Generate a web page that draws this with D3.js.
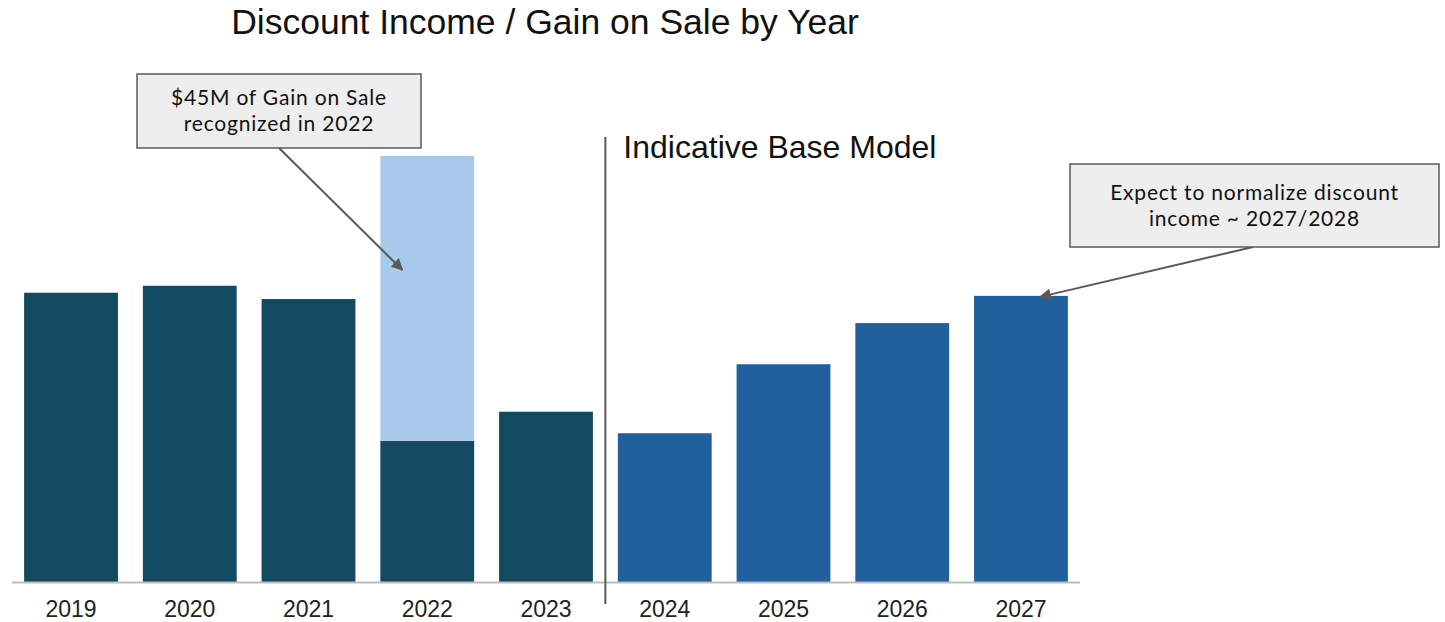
<!DOCTYPE html>
<html>
<head>
<meta charset="utf-8">
<script src="https://cdn.jsdelivr.net/npm/d3@7"></script>
<style>
  html, body { margin: 0; padding: 0; background: #fff; }
  svg { display: block; }
</style>
</head>
<body>
<svg id="chart" width="1445" height="622"></svg>
<script>
// Discount income by year ($M); 2022 also carries a one-off gain on sale
const years = ["2019", "2020", "2021", "2022", "2023", "2024", "2025", "2026", "2027"];
const discountIncome = [45.7, 46.8, 44.7, 22.3, 26.9, 23.5, 34.4, 40.9, 45.2];
const gainOnSale = [0, 0, 0, 45, 0, 0, 0, 0, 0];
const modelStart = "2024"; // first year of the indicative base model

const svg = d3.select("#chart");
const baseY = 582;

const x = d3.scaleBand()
  .domain(years)
  .range([12, 1080])
  .paddingInner(0.21)
  .paddingOuter(0.102);

const y = d3.scaleLinear()
  .domain([0, 70])
  .range([baseY, baseY - 70 * 6.33]);

const colHistory = "#134a62";
const colModel = "#21609c";
const colGain = "#a7c9ea";

// Title
svg.append("text")
  .attr("x", 545).attr("y", 34)
  .attr("text-anchor", "middle")
  .attr("font-family", "Liberation Sans, Arial, sans-serif")
  .attr("font-size", 35.5)
  .attr("fill", "#111")
  .text("Discount Income / Gain on Sale by Year");

const isModel = d => years.indexOf(d) >= years.indexOf(modelStart);

// Base bars
svg.append("g").selectAll("rect")
  .data(years)
  .join("rect")
  .attr("x", d => x(d))
  .attr("width", x.bandwidth())
  .attr("y", (d, i) => y(discountIncome[i]))
  .attr("height", (d, i) => y(0) - y(discountIncome[i]))
  .attr("fill", d => isModel(d) ? colModel : colHistory);

// Gain on sale stacked on top
svg.append("g").selectAll("rect")
  .data(years.filter((d, i) => gainOnSale[i] > 0))
  .join("rect")
  .attr("x", d => x(d))
  .attr("width", x.bandwidth())
  .attr("y", d => { const i = years.indexOf(d); return y(discountIncome[i] + gainOnSale[i]); })
  .attr("height", d => { const i = years.indexOf(d); return y(discountIncome[i]) - y(discountIncome[i] + gainOnSale[i]); })
  .attr("fill", colGain);

// X axis
const xAxis = svg.append("g")
  .attr("transform", `translate(0,${baseY})`)
  .call(d3.axisBottom(x).tickSize(0).tickPadding(19));
xAxis.select(".domain").attr("stroke", "#bdbdbd").attr("stroke-width", 2)
  .attr("d", "M12,0.5H1080");
xAxis.selectAll("text")
  .attr("font-family", "Liberation Sans, Arial, sans-serif")
  .attr("font-size", 23)
  .attr("fill", "#222");

// Divider between history and model
const divX = (x("2023") + x.bandwidth() + x("2024")) / 2;
svg.append("line")
  .attr("x1", divX).attr("x2", divX)
  .attr("y1", 137).attr("y2", 604)
  .attr("stroke", "#595959").attr("stroke-width", 2);

svg.append("text")
  .attr("x", divX + 18).attr("y", 158)
  .attr("font-family", "Liberation Sans, Arial, sans-serif")
  .attr("font-size", 32)
  .attr("fill", "#111")
  .text("Indicative Base Model");

// Arrow marker
svg.append("defs").append("marker")
  .attr("id", "arrow")
  .attr("viewBox", "0 0 10 10")
  .attr("refX", 9).attr("refY", 5)
  .attr("markerWidth", 6).attr("markerHeight", 6)
  .attr("markerUnits", "strokeWidth")
  .attr("orient", "auto")
  .append("path")
  .attr("d", "M0,0L10,5L0,10Z")
  .attr("fill", "#595959");

function callout(box, lines, from, to) {
  svg.append("line")
    .attr("x1", from[0]).attr("y1", from[1])
    .attr("x2", to[0]).attr("y2", to[1])
    .attr("stroke", "#595959").attr("stroke-width", 2)
    .attr("marker-end", "url(#arrow)");
  svg.append("rect")
    .attr("x", box.x).attr("y", box.y)
    .attr("width", box.w).attr("height", box.h)
    .attr("fill", "#eeeeee")
    .attr("stroke", "#595959").attr("stroke-width", 1.5);
  lines.forEach((s, k) => {
    svg.append("text")
      .attr("text-anchor", "middle")
      .attr("font-family", "Lato, sans-serif")
      .attr("font-size", 21)
      .attr("letter-spacing", 0.8)
      .attr("fill", "#111")
      .attr("x", box.x + box.w / 2)
      .attr("y", box.y + box.h / 2 - (lines.length - 1) * 13 + k * 26 + 7)
      .text(s);
  });
}

// Callout on the 2022 gain
const g22 = years.indexOf("2022");
callout({ x: 137, y: 74, w: 284, h: 74 },
  ["$45M of Gain on Sale", "recognized in 2022"],
  [279, 148],
  [x("2022") + 22, y(discountIncome[g22] + gainOnSale[g22] * 0.6)]);

// Callout on 2027 normalization
const g27 = years.indexOf("2027");
callout({ x: 1070, y: 164, w: 369, h: 83 },
  ["Expect to normalize discount", "income ~ 2027/2028"],
  [1253, 247],
  [x("2027") + 66, y(discountIncome[g27]) + 1]);
</script>
</body>
</html>
